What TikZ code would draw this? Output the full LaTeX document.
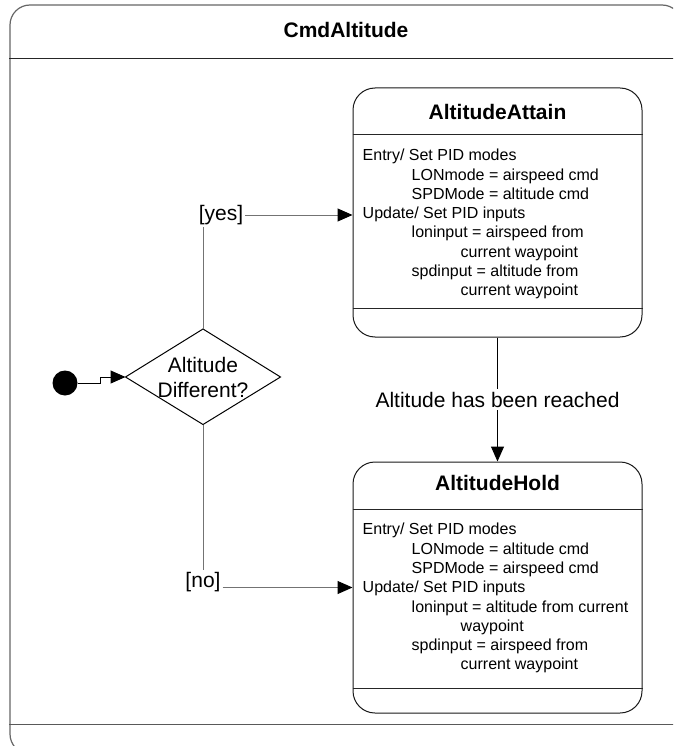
\documentclass[tikz,border=0pt]{standalone}
\usepackage{fontspec}
\setmainfont{Liberation Sans}
\usetikzlibrary{arrows.meta,calc}

\begin{document}
\begin{tikzpicture}[x=1pt,y=-1pt,
  every node/.style={inner sep=0pt},
  frame/.style={draw=black!60, line width=1.2pt, rounded corners=20pt},
  statebox/.style={draw=black!90, line width=1pt, rounded corners=22pt, minimum width=289pt},
  sep/.style={draw=black!85, line width=1pt},
  title/.style={font=\fontsize{21}{25}\selectfont\bfseries},
  body/.style={font=\fontsize{16}{19.3}\selectfont, align=left, anchor=north west},
  lbl/.style={font=\fontsize{21}{25}\selectfont, inner sep=2pt},
  flow/.style={draw=black, line width=1pt},
  guard/.style={draw=black!55, line width=1pt},
  tip/.style={-{Triangle[length=15pt,width=13pt,color=black]}},
]
\useasboundingbox (0,0) rectangle (673,746);
\clip (0,0) rectangle (673,746);

% outer composite state
\node[frame, minimum width=672pt, minimum height=749pt] (outer) at (346,379.5) {};
\draw[sep] ($(outer.north west)+(0,54)$) -- ($(outer.north east)+(0,54)$);
\draw[sep, draw=black!65] ($(outer.south west)+(0,-30)$) -- ($(outer.south east)+(0,-30)$);
\node[title] (outerTitle) at ($(outer.north)+(0,26)$) {CmdAltitude};

% state AltitudeAttain
\node[statebox, minimum height=249pt] (attain) at (497.5,212.5) {};
\node[title] (attainTitle) at ($(attain.north)+(0,24)$) {AltitudeAttain};
\draw[sep] ($(attain.north west)+(0,47)$) -- ($(attain.north east)+(0,47)$);
\draw[sep] ($(attain.south west)+(0,-29)$) -- ($(attain.south east)+(0,-29)$);
\node[body] (attainBody) at ($(attain.north west)+(10,61.5)$) {%
Entry/ Set PID modes\\
\hspace*{49pt}LONmode = airspeed cmd\\
\hspace*{49pt}SPDMode = altitude cmd\\
Update/ Set PID inputs\\
\hspace*{49pt}loninput = airspeed from\\
\hspace*{98pt}current waypoint\\
\hspace*{49pt}spdinput = altitude from\\
\hspace*{98pt}current waypoint};

% state AltitudeHold
\node[statebox, minimum height=251pt] (hold) at (497.5,587.5) {};
\node[title] (holdTitle) at ($(hold.north)+(0,21)$) {AltitudeHold};
\draw[sep] ($(hold.north west)+(0,48)$) -- ($(hold.north east)+(0,48)$);
\draw[sep] ($(hold.south west)+(0,-25)$) -- ($(hold.south east)+(0,-25)$);
\node[body] (holdBody) at ($(hold.north west)+(10,61.5)$) {%
Entry/ Set PID modes\\
\hspace*{49pt}LONmode = altitude cmd\\
\hspace*{49pt}SPDMode = airspeed cmd\\
Update/ Set PID inputs\\
\hspace*{49pt}loninput = altitude from current\\
\hspace*{98pt}waypoint\\
\hspace*{49pt}spdinput = airspeed from\\
\hspace*{98pt}current waypoint};

% decision
\coordinate (decT) at (203,329);
\coordinate (decR) at (280.5,377);
\coordinate (decB) at (203,424.5);
\coordinate (decL) at (125.5,377);
\draw[flow] (decT) -- (decR) -- (decB) -- (decL) -- cycle;
\node[font=\fontsize{21}{25}\selectfont, align=center] (decText) at (203,377) {Altitude\\Different?};

% initial pseudostate
\node[circle, fill=black, minimum size=25pt] (init) at (65,383) {};
\draw[flow, tip] (init.east) -- ++(23,0) -- ++(0,-6) -- (decL);

% guarded branches
\node[lbl] (yes) at (221,215) {[yes]};
\draw[guard] (decT) -- (decT |- yes.south);
\draw[guard, tip] (yes.east) -- (yes.east -| attain.west);

\node[lbl] (no) at (203,582) {[no]};
\draw[guard] (decB) -- (decB |- no.north);
\draw[guard, tip] (hold.west -| no.east) -- (hold.west);

% completion transition
\draw[flow, tip] (attain.south) -- node[lbl, fill=white, inner sep=3pt] (reached) {Altitude has been reached} (hold.north);
\end{tikzpicture}
\end{document}
